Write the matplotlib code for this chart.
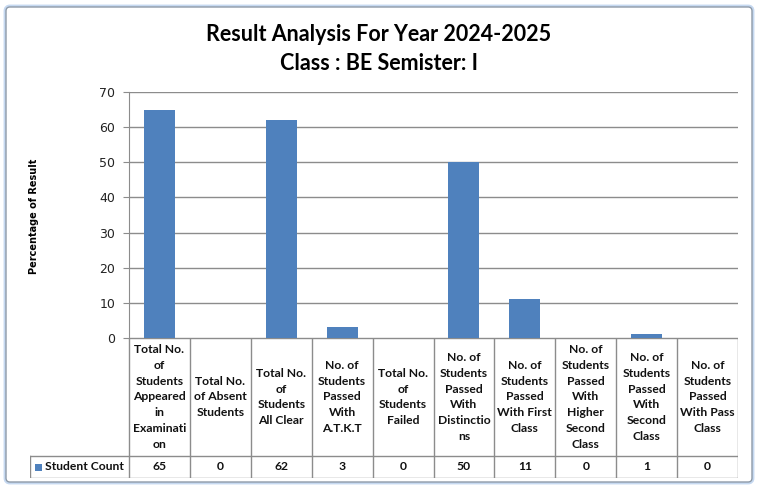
import matplotlib
matplotlib.use('Agg')
from matplotlib import pyplot as plt
from matplotlib.patches import FancyBboxPatch, Rectangle

# data
categories = [
    'Total No.\nof\nStudents\nAppeared\nin\nExaminati\non',
    'Total No.\nof Absent\nStudents',
    'Total No.\nof\nStudents\nAll Clear',
    'No. of\nStudents\nPassed\nWith\nA.T.K.T',
    'Total No.\nof\nStudents\nFailed',
    'No. of\nStudents\nPassed\nWith\nDistinctio\nns',
    'No. of\nStudents\nPassed\nWith First\nClass',
    'No. of\nStudents\nPassed\nWith\nHigher\nSecond\nClass',
    'No. of\nStudents\nPassed\nWith\nSecond\nClass',
    'No. of\nStudents\nPassed\nWith Pass\nClass',
]
student_count = [65, 0, 62, 3, 0, 50, 11, 0, 1, 0]
series_name = 'Student Count'
y_ticks = [0, 10, 20, 30, 40, 50, 60, 70]
title = 'Result Analysis For Year 2024-2025\nClass : BE Semister: I'
y_label = 'Percentage of Result'

W, H = 758, 491
bar_color = '#4F81BD'
line_color = '#8C8C8C'
text_font = 'Lato'


def fx(px):
    return px / W


def fy(py):
    return 1 - py / H


fig = plt.figure(figsize=(W / 100, H / 100), dpi=100)
fig.patch.set_facecolor('white')

# outer chart frame with a soft blue glow
glow = FancyBboxPatch((6 / 100, (H - 482) / 100), 746 / 100, 475 / 100,
                      boxstyle='round,pad=0,rounding_size=0.04',
                      transform=fig.dpi_scale_trans, facecolor='none',
                      edgecolor='#C6D9F1', linewidth=3.5, zorder=-2)
frame = FancyBboxPatch((6 / 100, (H - 482) / 100), 746 / 100, 475 / 100,
                       boxstyle='round,pad=0,rounding_size=0.04',
                       transform=fig.dpi_scale_trans, facecolor='white',
                       edgecolor='#8E9AA8', linewidth=1.0, zorder=-1)
fig.patches.extend([glow, frame])

# bar area
left, right, top, bottom = 129, 738, 92, 338
ax = fig.add_axes([fx(left), fy(bottom), fx(right - left), (bottom - top) / H])
ax.set_facecolor('none')
x = list(range(len(categories)))
ax.bar(x, student_count, width=0.51, color=bar_color, zorder=3)
ax.set_xlim(-0.5, len(categories) - 0.5)
ax.set_ylim(0, 70)
ax.set_yticks(y_ticks)
ax.set_xticks([])
ax.yaxis.grid(True, color=line_color, linewidth=1.0, zorder=0)
for s in ['top', 'right', 'bottom']:
    ax.spines[s].set_visible(False)
ax.spines['left'].set_color(line_color)
ax.tick_params(axis='y', length=4, color=line_color, labelsize=9,
               labelcolor='#222222', pad=6)
for lab in ax.get_yticklabels():
    lab.set_family('DejaVu Sans')

fig.text(fx(34), fy(216), y_label, rotation=90, ha='center', va='center',
         fontsize=7, fontweight='bold', family='DejaVu Sans')

fig.text(fx(379), fy(49), title, ha='center', va='center', fontsize=15.5,
         fontweight='bold', family=text_font, linespacing=1.45)

# data table under the bars
tab_left, tab_bottom = 30, 478
head_bottom = 456
col_w = (right - left) / len(categories)
leg_cols = (left - tab_left) / col_w
tab = fig.add_axes([fx(tab_left), fy(tab_bottom), fx(right - tab_left),
                    (tab_bottom - bottom) / H])
tab.set_xlim(-0.5 - leg_cols, len(categories) - 0.5)
tab.set_ylim(tab_bottom - bottom, 0)
tab.axis('off')
hb = head_bottom - bottom
rb = tab_bottom - bottom
lw = 1.0
# horizontal lines
tab.plot([-0.5, len(categories) - 0.5], [0, 0], color=line_color, lw=lw)
tab.plot([-0.5 - leg_cols, len(categories) - 0.5], [hb, hb], color=line_color, lw=lw)
tab.plot([-0.5 - leg_cols, len(categories) - 0.5], [rb, rb], color=line_color, lw=lw)
# vertical lines
for i in range(len(categories) + 1):
    tab.plot([i - 0.5, i - 0.5], [0, rb], color=line_color, lw=lw)
tab.plot([-0.5 - leg_cols] * 2, [hb, rb], color=line_color, lw=lw)

for i, (cat, val) in enumerate(zip(categories, student_count)):
    tab.text(i, hb / 2, cat, ha='center', va='center', fontsize=8.7,
             fontweight='bold', family=text_font, linespacing=1.55,
             color='#111111')
    tab.text(i, (hb + rb) / 2, str(val), ha='center', va='center',
             fontsize=8.7, fontweight='bold', family=text_font,
             color='#111111')

key_x = -0.5 - leg_cols + 5 / col_w
tab.add_patch(Rectangle((key_x, (hb + rb) / 2 - 3.5), 7 / col_w, 7,
                        facecolor=bar_color, edgecolor='none'))
tab.text(key_x + 10 / col_w, (hb + rb) / 2, series_name, ha='left',
         va='center', fontsize=8.7, fontweight='bold', family=text_font,
         color='#111111')

fig.savefig('out.png', dpi=100)
